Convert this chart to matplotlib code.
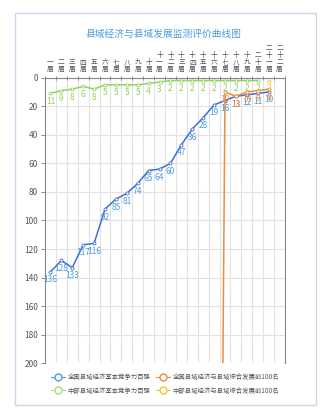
import numpy as np
import matplotlib
matplotlib.use("Agg")
import matplotlib.pyplot as plt
from matplotlib.patches import Rectangle
from matplotlib.lines import Line2D

plt.rcParams['font.family'] = ['Noto Sans CJK SC', 'DejaVu Sans']

# 届次
jieci = ["一", "二", "三", "四", "五", "六", "七", "八", "九", "十",
         "十一", "十二", "十三", "十四", "十五", "十六", "十七", "十八", "十九", "二十",
         "二十一", "二十二"]

# 各序列排名（None 表示该届无数据）
quanguo_jibens = [136, 128, 133, 117, 116, 92, 85, 81, 74, 65, 64,
                  60, 47, 36, 28, 19, 16, 13, 12, 11, 10, None]
zhongbu_jibens = [11, 9, 8, 6, 8, 5, 5, 5, 5, 4, 3,
                  2, 2, 2, 2, 2, 2, 2, 2, 2, None, None]
quanguo_zonghe = [None] * 15 + [1000, 10, 13, 10, 9, 8, None]
zhongbu_zonghe = [None] * 20 + [2, None]

# 图例按列填充：第一列两个“基本竞争力”，第二列两个“综合发展”
series = [
    ("全国县域经济基本竞争力百强", quanguo_jibens, "#3f6fcf", "#4e9be0"),
    ("中部县域经济基本竞争力百强", zhongbu_jibens, "#8fd45a", "#8fd45a"),
    ("全国县域经济与县域综合发展前100名", quanguo_zonghe, "#f08a3c", "#f08a3c"),
    ("中部县域经济与县域综合发展前100名", zhongbu_zonghe, "#f7c531", "#f7c531"),
]
legend_colors = ["#4e9be0", "#a6dc7a", "#f08a3c", "#f7c531"]

W, H = 327, 419
fig = plt.figure(figsize=(W / 100, H / 100), dpi=100)
fig.patches.append(Rectangle((15 / W, 1 - 405 / H), 301 / W, 392 / H,
                             transform=fig.transFigure, fill=False,
                             edgecolor="#c8d6e8", linewidth=1.0))

ax = fig.add_axes([45 / W, 1 - 363.3 / H, 240 / W, 285.6 / H])
n = len(jieci)
x = np.arange(n)

ax.set_xlim(-0.5, n - 0.5)
ax.set_ylim(200, 0)
ax.set_yticks(np.arange(0, 201, 20))
ax.xaxis.tick_top()
ax.set_xticks(np.arange(-0.5, n, 1.0))
ax.set_xticklabels([])
ax.tick_params(axis="x", length=3, width=0.6, color="#777777", direction="inout")
ax.tick_params(axis="y", length=3, width=0.6, color="#777777", labelsize=6,
               labelcolor="#555555", pad=2)
ax.grid(True, color="#e2e2e2", linewidth=0.8)
ax.set_axisbelow(True)
for side in ["top", "left", "right"]:
    ax.spines[side].set_color("#888888")
    ax.spines[side].set_linewidth(0.8)
ax.spines["bottom"].set_visible(False)

# 顶部竖排届次标签
for i, name in enumerate(jieci):
    ax.text(i, -3, "\n".join(name + "届"), ha="center", va="bottom",
            fontsize=4.8, color="#555555", linespacing=0.85, clip_on=False)

for label, vals, lc, tc in series:
    ys = np.array([np.nan if v is None else v for v in vals], dtype=float)
    ax.plot(x, ys, color=lc, linewidth=1.1, marker="o", markersize=2.2,
            markerfacecolor="white", markeredgecolor=lc, markeredgewidth=0.6,
            clip_on=True, zorder=3)
    for xi, v in zip(x, vals):
        if v is None or v > 200:
            continue
        ax.annotate(str(v), (xi, v), xytext=(0, -2.5), textcoords="offset points",
                    ha="center", va="top", fontsize=6, color=tc, zorder=4)

fig.text(0.5, 1 - 34 / H, "县域经济与县域发展监测评价曲线图", ha="center", va="center",
         fontsize=7, color="#4a9de2")

handles = [Line2D([0], [0], color=c, linewidth=0.8, marker="o", markersize=5,
                  markerfacecolor="white", markeredgecolor=c)
           for c in legend_colors]
fig.legend(handles, [s[0] for s in series], loc="center",
           bbox_to_anchor=(165 / W, 1 - 384 / H), ncol=2, frameon=False,
           fontsize=4.6, labelcolor="#555555", handlelength=2.2,
           columnspacing=0.8, handletextpad=0.4, labelspacing=0.8)

fig.savefig("out.png", dpi=100)
